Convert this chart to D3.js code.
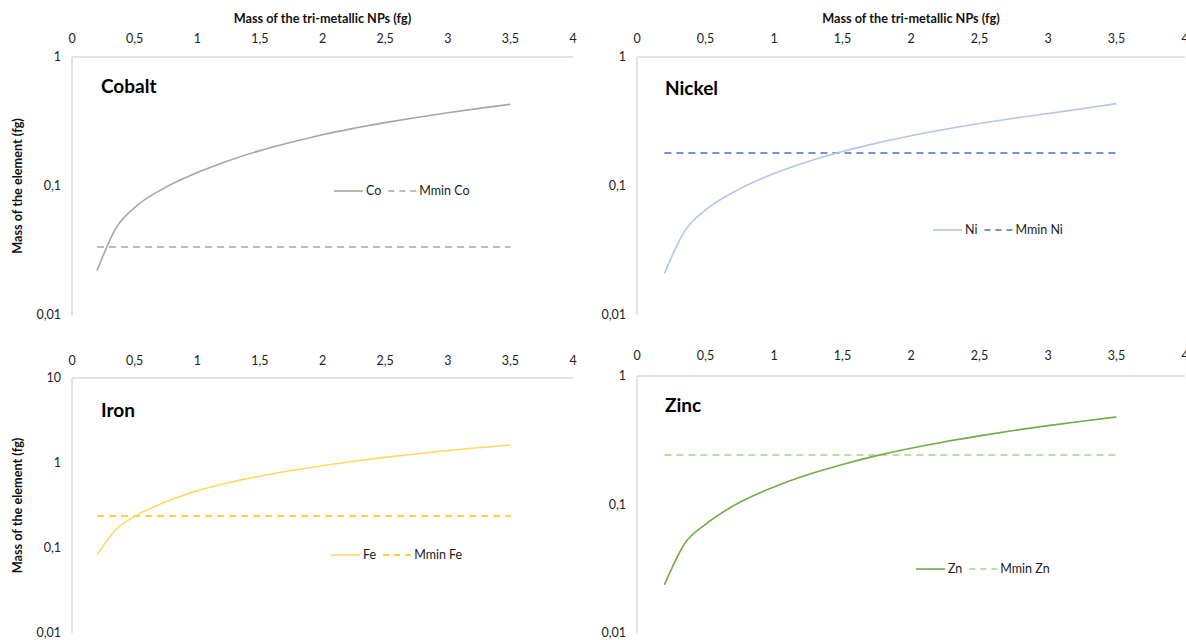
<!DOCTYPE html>
<html>
<head>
<meta charset="utf-8">
<script src="https://cdn.jsdelivr.net/npm/d3@7/dist/d3.min.js"></script>
<style>
  html, body { margin: 0; padding: 0; background: #fff; }
  svg { display: block; font-family: Lato, "Open Sans", sans-serif; }
</style>
</head>
<body>
<svg id="chart" width="1186" height="640"></svg>
<script>
// ---- data ----
const npMass = [0.2, 0.35, 0.5, 0.75, 1, 1.25, 1.5, 1.75, 2, 2.25, 2.5, 2.75, 3, 3.25, 3.5];
const coMass = [0.022, 0.047, 0.068, 0.098, 0.127, 0.157, 0.188, 0.218, 0.25, 0.28, 0.31, 0.34, 0.37, 0.40, 0.43];
const niMass = [0.021, 0.045, 0.065, 0.095, 0.125, 0.155, 0.185, 0.215, 0.245, 0.275, 0.305, 0.335, 0.365, 0.397, 0.435];
const feMass = [0.083, 0.165, 0.235, 0.35, 0.47, 0.585, 0.70, 0.815, 0.93, 1.05, 1.165, 1.28, 1.40, 1.515, 1.63];
const znMass = [0.0237, 0.05, 0.07, 0.104, 0.137, 0.171, 0.205, 0.24, 0.274, 0.308, 0.342, 0.377, 0.411, 0.445, 0.48];
const mminX = [0.2, 3.5];
const mminCo = 0.0337;
const mminNi = 0.18;
const mminFe = 0.238;
const mminZn = 0.243;
const xTicks = [0, 0.5, 1, 1.5, 2, 2.5, 3, 3.5, 4];
const yTicksSmall = [0.01, 0.1, 1];
const yTicksLarge = [0.01, 0.1, 1, 10];
const xTitle = "Mass of the tri-metallic NPs (fg)";
const yTitle = "Mass of the element (fg)";

const fmt = v => String(v).replace(".", ",");

// ---- layout ----
const panels = [
  { name: "Cobalt", sym: "Co", values: coMass, mmin: mminCo, yDomain: [0.01, 1], yTicks: yTicksSmall,
    left: 72, right: 573, top: 57, bottom: 315, curve: "#a6a6a6", dash: "#a6a6a6",
    titleX: 101, titleY: 93, legX: 334, legY: 191, xLabelY: 43, showXTitle: true, showYTitle: true },
  { name: "Nickel", sym: "Ni", values: niMass, mmin: mminNi, yDomain: [0.01, 1], yTicks: yTicksSmall,
    left: 637, right: 1185, top: 57, bottom: 315, curve: "#b4c7e7", dash: "#4472c4",
    titleX: 665, titleY: 95, legX: 933, legY: 230, xLabelY: 43, showXTitle: true, showYTitle: false },
  { name: "Iron", sym: "Fe", values: feMass, mmin: mminFe, yDomain: [0.01, 10], yTicks: yTicksLarge,
    left: 72, right: 573, top: 378, bottom: 633, curve: "#ffd966", dash: "#ffc000",
    titleX: 101, titleY: 417, legX: 331, legY: 555, xLabelY: 365, showXTitle: false, showYTitle: true },
  { name: "Zinc", sym: "Zn", values: znMass, mmin: mminZn, yDomain: [0.01, 1], yTicks: yTicksSmall,
    left: 637, right: 1185, top: 376, bottom: 633, curve: "#70ad47", dash: "#a9d18e",
    titleX: 665, titleY: 412, legX: 916, legY: 569, xLabelY: 360, showXTitle: false, showYTitle: false }
];

const svg = d3.select("#chart");

panels.forEach(p => {
  const x = d3.scaleLinear().domain([0, 4]).range([p.left, p.right]);
  const y = d3.scaleLog().domain(p.yDomain).range([p.bottom, p.top]);
  const g = svg.append("g");

  // axis lines
  g.append("line").attr("x1", p.left).attr("x2", p.right).attr("y1", p.top).attr("y2", p.top)
    .attr("stroke", "#d9d9d9").attr("stroke-width", 1.5);
  g.append("line").attr("x1", p.left).attr("x2", p.left).attr("y1", p.top).attr("y2", p.bottom)
    .attr("stroke", "#d9d9d9").attr("stroke-width", 1.5);

  // x tick labels (top)
  g.selectAll(".xt").data(xTicks).enter().append("text")
    .attr("x", d => x(d)).attr("y", p.xLabelY)
    .attr("text-anchor", "middle").attr("font-size", 12.5).attr("fill", "#222")
    .text(d => fmt(d));

  // y tick labels
  g.selectAll(".yt").data(p.yTicks).enter().append("text")
    .attr("x", p.left - 11).attr("y", d => y(d)).attr("dy", "0.35em")
    .attr("text-anchor", "end").attr("font-size", 12.5).attr("fill", "#222")
    .text(d => fmt(d));

  if (p.showXTitle) {
    g.append("text").attr("x", (p.left + p.right) / 2).attr("y", 23)
      .attr("text-anchor", "middle").attr("font-size", 12.7).attr("font-weight", "bold").attr("fill", "#111")
      .text(xTitle);
  }
  if (p.showYTitle) {
    const cy = (p.top + p.bottom) / 2;
    g.append("text").attr("transform", `translate(22,${cy}) rotate(-90)`)
      .attr("text-anchor", "middle").attr("font-size", 12.7).attr("font-weight", "bold").attr("fill", "#111")
      .text(yTitle);
  }

  // title
  g.append("text").attr("x", p.titleX).attr("y", p.titleY)
    .attr("font-size", 19).attr("font-weight", "bold").attr("fill", "#000").text(p.name);

  // mmin dashed line
  const lineGen = d3.line().x(d => x(d[0])).y(d => y(d[1]));
  g.append("path").datum(mminX.map(v => [v, p.mmin]))
    .attr("d", lineGen).attr("fill", "none").attr("stroke", p.dash)
    .attr("stroke-width", 1.5).attr("stroke-dasharray", "7,5");

  // curve
  const curveGen = d3.line().x(d => x(d[0])).y(d => y(d[1])).curve(d3.curveMonotoneX);
  g.append("path").datum(npMass.map((v, i) => [v, p.values[i]]))
    .attr("d", curveGen).attr("fill", "none").attr("stroke", p.curve).attr("stroke-width", 1.6);

  // legend
  const lg = g.append("g").attr("transform", `translate(${p.legX},${p.legY})`);
  lg.append("line").attr("x1", 0).attr("x2", 29).attr("y1", 0).attr("y2", 0)
    .attr("stroke", p.curve).attr("stroke-width", 1.6);
  const t1 = lg.append("text").attr("x", 32).attr("y", 0).attr("dy", "0.35em")
    .attr("font-size", 12.5).attr("fill", "#222").text(p.sym);
  const w1 = t1.node().getComputedTextLength();
  const dx = 32 + w1 + 7;
  lg.append("line").attr("x1", dx).attr("x2", dx + 29).attr("y1", 0).attr("y2", 0)
    .attr("stroke", p.dash).attr("stroke-width", 1.5).attr("stroke-dasharray", "6,5");
  lg.append("text").attr("x", dx + 31).attr("y", 0).attr("dy", "0.35em")
    .attr("font-size", 12.5).attr("fill", "#222").text("Mmin " + p.sym);
});
</script>
</body>
</html>
